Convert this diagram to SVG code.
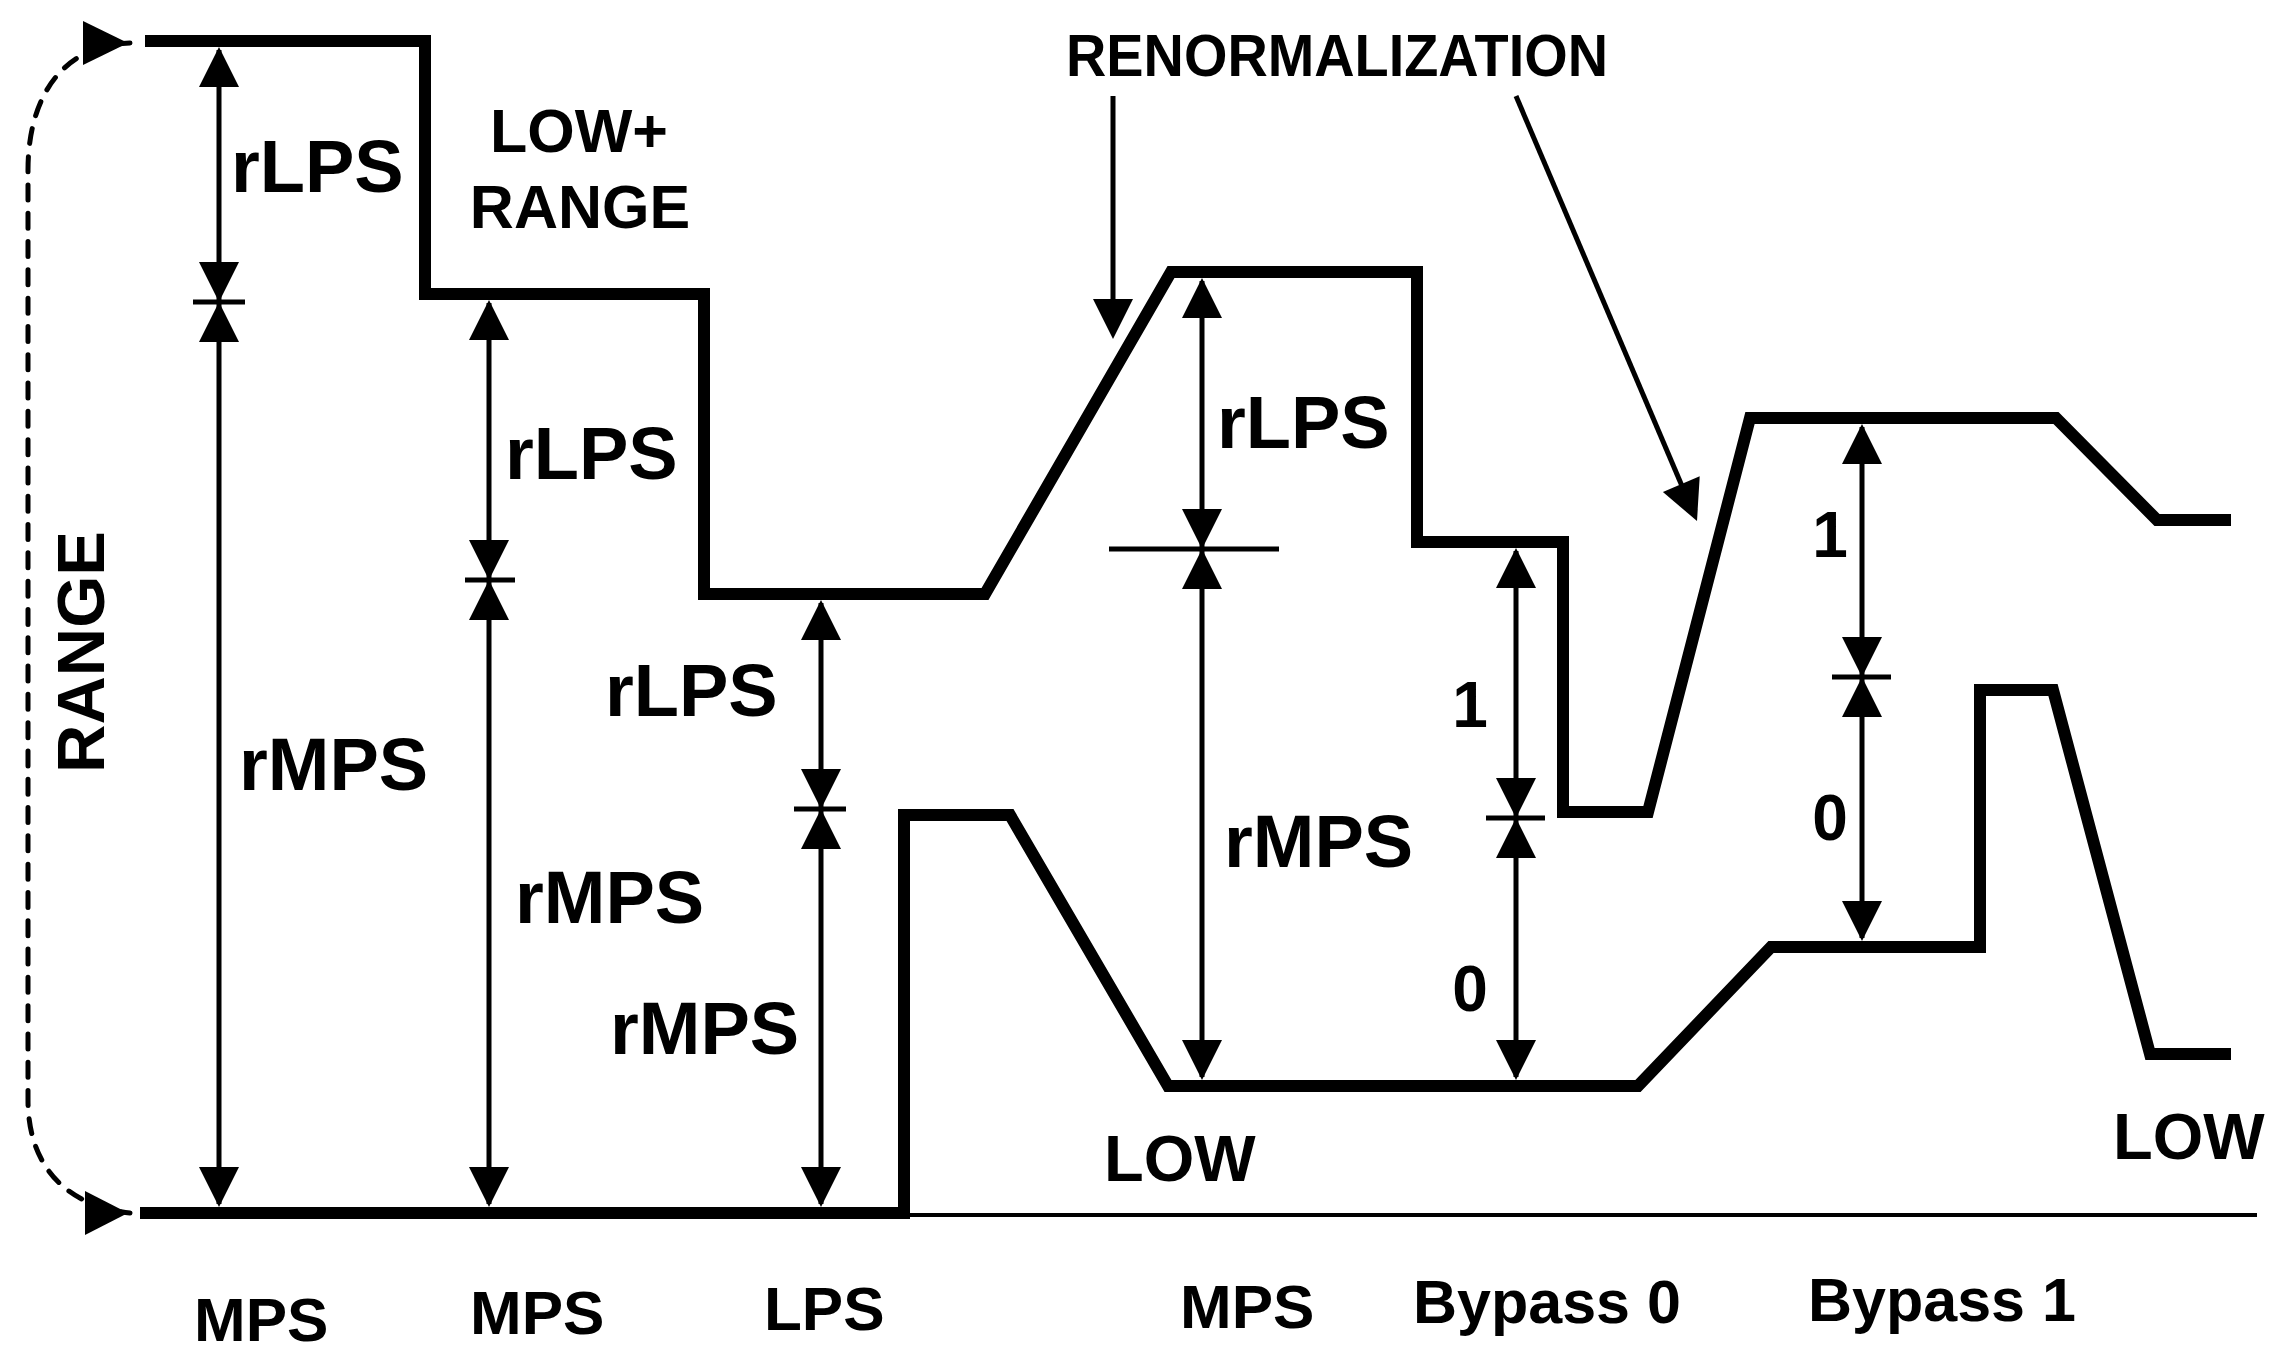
<svg xmlns="http://www.w3.org/2000/svg" xmlns:xlink="http://www.w3.org/1999/xlink" width="2286" height="1366" viewBox="0 0 2286 1366">
<defs>
<style>
.trace{fill:none;stroke:#000;stroke-width:12;stroke-linejoin:miter;stroke-miterlimit:10;stroke-linecap:butt}
.dim{fill:none;stroke:#000;stroke-width:5}
.thin{fill:none;stroke:#000;stroke-width:4}
.dash{fill:none;stroke:#000;stroke-width:5;stroke-linecap:round;stroke-dasharray:15 13.3}
.lbl{font-family:"Liberation Sans",Arial,sans-serif;font-weight:bold;fill:#000}
.big{font-size:74px}
.mid{font-size:61px}
.bot{font-size:62px}
.dig{font-size:64px}
</style>
<path id="ah" d="M0,0 L-20,40 L20,40 Z" fill="#000"/>
</defs>
<rect width="2286" height="1366" fill="#fff"/>

<g id="range-indicator">
<path class="dash" d="M130,43 C60,45 28,100 28,170 L28,1100 C28,1160 60,1205 130,1213"/>
<polygon points="83,21 83,65 128,43" fill="#000"/>
<polygon points="85,1191 85,1235 128,1213" fill="#000"/>
</g>

<g id="traces">
<polyline id="upper-trace" class="trace" points="145,41 425,41 425,294 704,294 704,594 985,594 1171,272 1417,272 1417,542 1563,542 1563,812 1648,812 1750,418 2056,418 2157,520 2231,520"/>
<polyline id="lower-trace" class="trace" points="140,1213 904,1213 904,815 1010,815 1168,1086 1638,1086 1771,947 1980,947 1980,690 2053,690 2150,1054 2231,1054"/>
<line id="baseline" class="thin" x1="904" y1="1215" x2="2257" y2="1215"/>
</g>

<g id="connectors">
<g id="dim-A">
<line class="dim" x1="219" y1="50" x2="219" y2="1204"/>
<line class="dim" x1="193" y1="302" x2="245" y2="302"/>
<use xlink:href="#ah" transform="translate(219,47)"/>
<use xlink:href="#ah" transform="translate(219,302) rotate(180)"/>
<use xlink:href="#ah" transform="translate(219,302)"/>
<use xlink:href="#ah" transform="translate(219,1207) rotate(180)"/>
</g>
<g id="dim-B">
<line class="dim" x1="489" y1="303" x2="489" y2="1204"/>
<line class="dim" x1="465" y1="580" x2="515" y2="580"/>
<use xlink:href="#ah" transform="translate(489,300)"/>
<use xlink:href="#ah" transform="translate(489,580) rotate(180)"/>
<use xlink:href="#ah" transform="translate(489,580)"/>
<use xlink:href="#ah" transform="translate(489,1207) rotate(180)"/>
</g>
<g id="dim-C">
<line class="dim" x1="821" y1="603" x2="821" y2="1204"/>
<line class="dim" x1="794" y1="809" x2="846" y2="809"/>
<use xlink:href="#ah" transform="translate(821,600)"/>
<use xlink:href="#ah" transform="translate(821,809) rotate(180)"/>
<use xlink:href="#ah" transform="translate(821,809)"/>
<use xlink:href="#ah" transform="translate(821,1207) rotate(180)"/>
</g>
<g id="dim-D">
<line class="dim" x1="1202" y1="281" x2="1202" y2="1077"/>
<line class="dim" x1="1109" y1="549" x2="1279" y2="549"/>
<use xlink:href="#ah" transform="translate(1202,278)"/>
<use xlink:href="#ah" transform="translate(1202,549) rotate(180)"/>
<use xlink:href="#ah" transform="translate(1202,549)"/>
<use xlink:href="#ah" transform="translate(1202,1080) rotate(180)"/>
</g>
<g id="dim-E">
<line class="dim" x1="1516" y1="551" x2="1516" y2="1077"/>
<line class="dim" x1="1486" y1="818" x2="1545" y2="818"/>
<use xlink:href="#ah" transform="translate(1516,548)"/>
<use xlink:href="#ah" transform="translate(1516,818) rotate(180)"/>
<use xlink:href="#ah" transform="translate(1516,818)"/>
<use xlink:href="#ah" transform="translate(1516,1080) rotate(180)"/>
</g>
<g id="dim-F">
<line class="dim" x1="1862" y1="427" x2="1862" y2="938"/>
<line class="dim" x1="1832" y1="677" x2="1891" y2="677"/>
<use xlink:href="#ah" transform="translate(1862,424)"/>
<use xlink:href="#ah" transform="translate(1862,677) rotate(180)"/>
<use xlink:href="#ah" transform="translate(1862,677)"/>
<use xlink:href="#ah" transform="translate(1862,941) rotate(180)"/>
</g>
<g id="renorm-arrows">
<line class="dim" x1="1113" y1="96" x2="1113" y2="302"/>
<use xlink:href="#ah" transform="translate(1113,339) rotate(180)"/>
<line class="dim" x1="1516" y1="96" x2="1682" y2="486"/>
<use xlink:href="#ah" transform="translate(1697,521) rotate(156.9)"/>
</g>
</g>

<g id="labels" class="lbl">
<text class="big" x="231" y="192">rLPS</text>
<text class="mid" x="579" y="152" text-anchor="middle">LOW+</text>
<text class="mid" x="580" y="228" text-anchor="middle">RANGE</text>
<text class="big" x="505" y="479">rLPS</text>
<text class="big" x="239" y="790">rMPS</text>
<text class="big" x="605" y="716">rLPS</text>
<text class="big" x="515" y="923">rMPS</text>
<text class="big" x="610" y="1054">rMPS</text>
<text class="big" x="1217" y="448">rLPS</text>
<text class="big" x="1224" y="867">rMPS</text>
<text class="dig" x="1470" y="727" text-anchor="middle">1</text>
<text class="dig" x="1470" y="1011" text-anchor="middle">0</text>
<text class="dig" x="1830" y="557" text-anchor="middle">1</text>
<text class="dig" x="1830" y="840" text-anchor="middle">0</text>
<text x="1104" y="1181" style="font-size:65px">LOW</text>
<text x="2113" y="1159" style="font-size:65px">LOW</text>
<text x="1066" y="76" style="font-size:60px" textLength="542" lengthAdjust="spacingAndGlyphs">RENORMALIZATION</text>
<text transform="translate(104,652) rotate(-90)" text-anchor="middle" style="font-size:67px">RANGE</text>
<text class="bot" x="194" y="1341">MPS</text>
<text class="bot" x="470" y="1334">MPS</text>
<text class="bot" x="764" y="1330">LPS</text>
<text class="bot" x="1180" y="1328">MPS</text>
<text class="mid" x="1413" y="1323">Bypass 0</text>
<text class="mid" x="1808" y="1321">Bypass 1</text>
</g>
</svg>
